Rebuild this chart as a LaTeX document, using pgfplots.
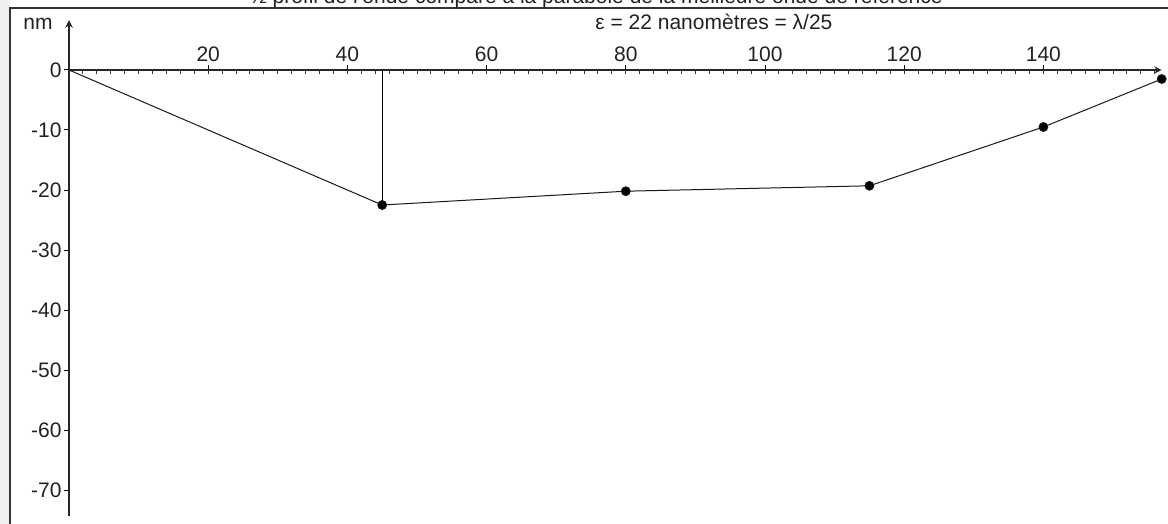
\documentclass[border=0pt]{standalone}
\usepackage{pgfplots}
\pgfplotsset{compat=1.18}
\usepackage{fontspec}
\setmainfont{Liberation Sans}
\definecolor{txt}{HTML}{222222}
\definecolor{strip}{HTML}{F0F0F0}
\newcommand{\lbl}{\fontsize{10.5}{12}\selectfont}
\begin{document}
\begin{tikzpicture}
\fill[strip] (-34.5pt,-227pt) rectangle (-29.5pt,35pt);
\begin{axis}[
    anchor=origin, at={(0pt,0pt)},
    x=3.48pt, y=3pt,
    xmin=0, xmax=157, ymin=-74.3, ymax=8.3,
    axis lines=middle,
    axis line style={line width=0.7pt, color=black!85},
    clip=false,
    xtick={20,40,...,140},
    minor xtick={2,4,...,156},
    ytick={-70,-60,...,0},
    hide obscured y ticks=false,
    tick align=center,
    major tick length=2.5pt,
    minor tick length=2pt,
    major x tick style={yshift=1.25pt, line width=0.5pt, black},
    minor x tick style={yshift=-1pt, line width=0.5pt, black!80},
    major y tick style={xshift=-1pt, line width=0.5pt, black},
    tick label style={font=\lbl, text=txt},
    xticklabel style={anchor=south, yshift=1.8pt},
    yticklabel style={anchor=east, xshift=1pt},
    /pgf/number format/assume math mode=true,
  ]
  % demi-profil
  \addplot[black!90, line width=0.5pt] coordinates {(0,0) (45,-22.5)};
  \addplot[black, line width=0.6pt] coordinates {(45,0) (45,-22.5)};
  \addplot[black!90, line width=0.5pt, mark=*, mark size=2.2pt,
           mark options={fill=black}] coordinates {
    (45,-22.5) (80,-20.2) (115,-19.3) (140,-9.5) (157,-1.5)
  };
\end{axis}
% cadre
\draw[line width=0.7pt, black!80] (-29.5pt,-230pt) -- (-29.5pt,31pt) -- (560pt,31pt);
\node[anchor=base, font=\lbl, text=txt, inner sep=0pt]
  at (263.5pt,33.3pt) {½ profil de l'onde comparé à la parabole de la meilleure onde de référence};
\node[anchor=base west, font=\lbl, text=txt, inner sep=0pt]
  at (263pt,20pt) {ε = 22 nanomètres = λ/25};
\node[anchor=base west, font=\lbl, text=txt, inner sep=0pt]
  at (-23pt,20pt) {nm};
\pgfresetboundingbox
\path[use as bounding box] (-34.5pt,-227pt) rectangle (549.5pt,35pt);
\end{tikzpicture}
\end{document}
